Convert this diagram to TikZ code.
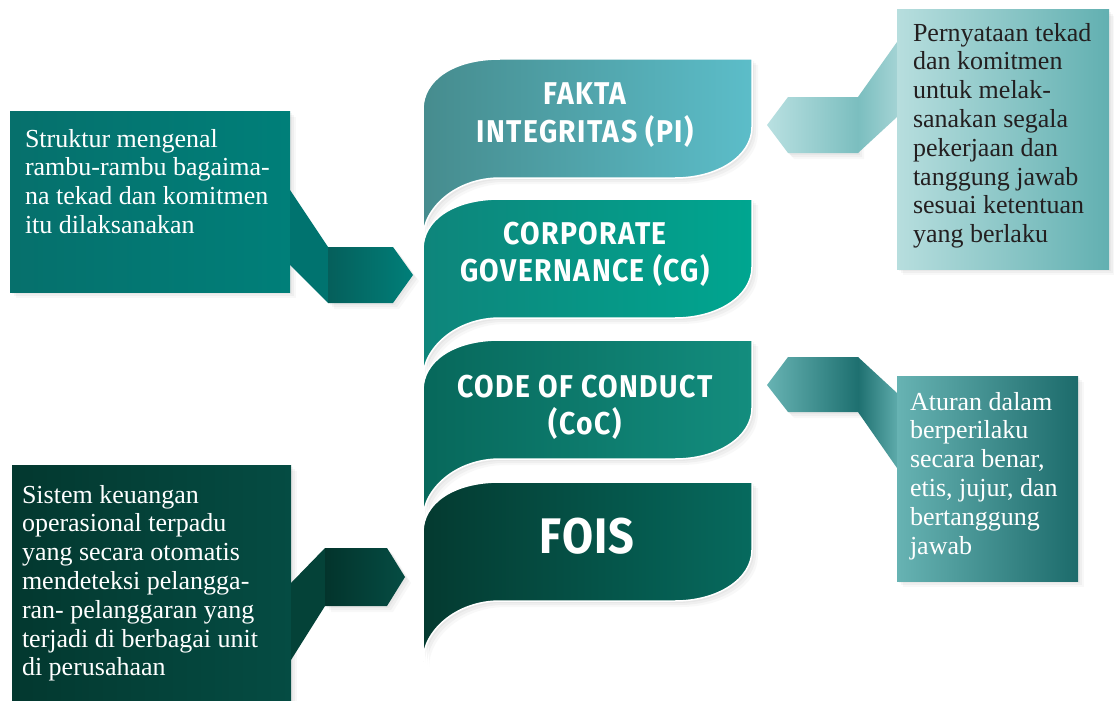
\documentclass[tikz,border=0pt]{standalone}
\usepackage{fontspec}
\setmainfont{Liberation Serif}
\newfontfamily\headfont[FakeStretch=0.9,LetterSpace=4.5]{Fira Sans}
\newfontfamily\bigheadfont[FakeStretch=0.9,LetterSpace=2]{Fira Sans}
\usetikzlibrary{shadows}
\definecolor{rA1}{HTML}{468C8E}\definecolor{rA2}{HTML}{5CBDC9}
\definecolor{rB1}{HTML}{0E857B}\definecolor{rB2}{HTML}{00A690}
\definecolor{rC1}{HTML}{07685B}\definecolor{rC2}{HTML}{138D7E}
\definecolor{rD1}{HTML}{043A30}\definecolor{rD2}{HTML}{066A5E}
\definecolor{tlL}{HTML}{06706C}\definecolor{tlR}{HTML}{007F79}
\definecolor{tlF}{HTML}{00736F}\definecolor{tlA}{HTML}{055F5B}
\definecolor{blL}{HTML}{03382F}\definecolor{blR}{HTML}{054C43}
\definecolor{blF}{HTML}{044238}\definecolor{blA}{HTML}{03342C}
\definecolor{trL}{HTML}{B7DEDE}\definecolor{trR}{HTML}{62B0B1}
\definecolor{trF}{HTML}{A3D3D4}\definecolor{trA}{HTML}{B9E0E1}\definecolor{trB}{HTML}{7BBEBF}
\definecolor{brL}{HTML}{67B3B3}\definecolor{brM}{HTML}{5CA8A8}\definecolor{brR}{HTML}{1C6B6B}
\definecolor{brF}{HTML}{1E7070}\definecolor{brG}{HTML}{5DAAAA}
\definecolor{textdark}{HTML}{231F20}
\begin{document}
\begin{tikzpicture}[x=1pt,y=-1pt,
  every node/.style={inner sep=0pt,outer sep=0pt},
  softshadow/.style={drop shadow={opacity=.07,shadow xshift=2pt,shadow yshift=-2pt},
                     drop shadow={opacity=.07,shadow xshift=4pt,shadow yshift=-4pt},
                     drop shadow={opacity=.05,shadow xshift=6pt,shadow yshift=-6pt}},
  ribbonshape/.style={insert path={(500,#1) -- (752,#1) -- (752,#1+68)
      .. controls (752,#1+97) and (718,#1+119) .. (675,#1+119) -- (500,#1+119)
      .. controls (455,#1+119) and (423,#1+150) .. (423,#1+179) -- (423,#1+50)
      .. controls (423,#1+22) and (452,#1) .. (500,#1) -- cycle}},
  band/.style={draw=white,line width=1.5pt,softshadow},
  body/.style={font=\fontsize{26}{28.8}\selectfont,align=left,anchor=north west},
  head/.style={font=\headfont\bfseries\fontsize{31.5}{37.5}\selectfont,align=center,anchor=north,text=white},
  boxsty/.style={rectangle,anchor=north west,softshadow}
]
\useasboundingbox (0,0) rectangle (1114,701);
\fill[white] (0,0) rectangle (1114,701);

% ---- central ribbon bands ----
\path[band,left color=rA1,right color=rA2,ribbonshape=59];
\path[band,left color=rB1,right color=rB2,ribbonshape=199];
\path[band,left color=rC1,right color=rC2,ribbonshape=340];
\path[band,left color=rD1,right color=rD2,ribbonshape=482];

\node[head] (h1) at (585,83) {FAKTA\\INTEGRITAS (PI)};
\node[head] (h2) at (585,222) {CORPORATE\\GOVERNANCE (CG)};
\node[head] (h3) at (585,375) {CODE OF CONDUCT\\(CoC)};
\node[head,font=\bigheadfont\bfseries\fontsize{50}{55}\selectfont] (h4) at (587,518) {FOIS};

% ---- left top box ----
\node[boxsty,minimum width=280pt,minimum height=181pt,left color=tlL,right color=tlR] (b1) at (10,111) {};
\coordinate (tip1) at (413,275);
\path[fill=tlF] (290,190) -- (328,247) -- (328,303) -- (290,265) -- cycle;
\path[softshadow,left color=tlA,right color=tlR] (328,247) -- (393,247) -- (tip1) -- (393,303) -- (328,303) -- cycle;
\node[body,text=white] (t1) at (25,129) {Struktur mengenal\\rambu-rambu bagaima-\\na tekad dan komitmen\\itu dilaksanakan};

% ---- left bottom box ----
\node[boxsty,minimum width=279pt,minimum height=250pt,left color=blL,right color=blR] (b2) at (12,465) {};
\coordinate (tip2) at (405,577);
\path[fill=blF] (291,583) -- (325,548) -- (325,606) -- (291,660) -- cycle;
\path[softshadow,left color=blA,right color=blR] (325,548) -- (387,548) -- (tip2) -- (387,606) -- (325,606) -- cycle;
\node[body,text=white] (t2) at (22,485) {Sistem keuangan\\operasional terpadu\\yang secara otomatis\\mendeteksi pelangga-\\ran- pelanggaran yang\\terjadi di berbagai unit\\di perusahaan};

% ---- right top box ----
\coordinate (tip3) at (767,125);
\path[softshadow,left color=trA,right color=trB] (858,97) -- (788,97) -- (tip3) -- (788,153) -- (858,153) -- cycle;
\path[left color=trB,right color=trF] (897,42) -- (858,97) -- (858,153) -- (897,117) -- cycle;
\node[boxsty,minimum width=212pt,minimum height=259pt,left color=trL,right color=trR] (b3) at (897,10) {};
\node[body,text=textdark] (t3) at (913,23) {Pernyataan tekad\\dan komitmen\\untuk melak-\\sanakan segala\\pekerjaan dan\\tanggung jawab\\sesuai ketentuan\\yang berlaku};

% ---- right bottom box ----
\coordinate (tip4) at (767,385);
\path[softshadow,left color=brL,middle color=brM,right color=brF] (858,357) -- (788,357) -- (tip4) -- (788,412) -- (858,412) -- cycle;
\path[left color=brF,right color=brG] (858,357) -- (897,393) -- (897,468) -- (858,412) -- cycle;
\node[boxsty,minimum width=181pt,minimum height=205pt,left color=brL,middle color=brM,right color=brR] (b4) at (897,376) {};
\node[body,text=white] (t4) at (910,392) {Aturan dalam\\berperilaku\\secara benar,\\etis, jujur, dan\\bertanggung\\jawab};
\end{tikzpicture}
\end{document}
